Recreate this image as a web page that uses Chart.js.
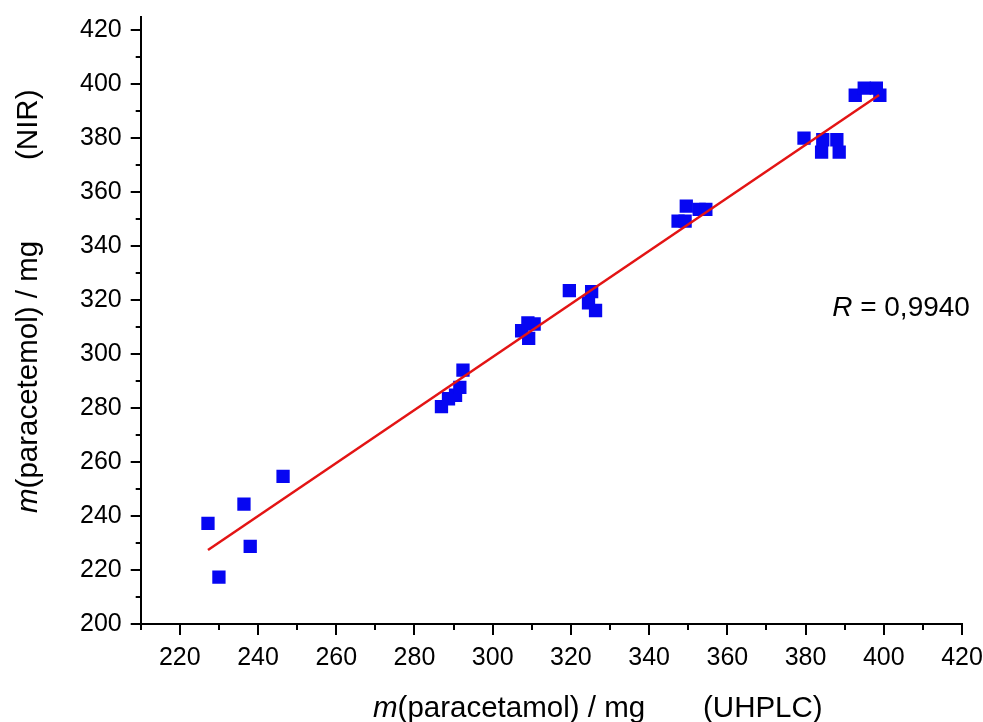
<!DOCTYPE html>
<html>
<head>
<meta charset="utf-8">
<script src="https://cdn.jsdelivr.net/npm/chart.js@4"></script>
<style>
  html, body { margin: 0; padding: 0; background: #fff; }
  #wrap { width: 983px; height: 722px; }
</style>
</head>
<body>
<div id="wrap"><canvas id="chart"></canvas></div>
<script>
// UHPLC (x) vs NIR (y), mg paracetamol
const uhplc = [
  227.2, 230.0, 236.4, 238.0, 246.4,
  286.9, 288.7, 290.5, 291.6, 292.4,
  307.4, 309.0, 310.6, 309.2,
  319.6, 325.3, 324.5, 326.3,
  347.4, 349.2, 349.5, 352.8, 354.5,
  379.6, 384.4, 388.0, 384.1, 388.6,
  392.7, 395.0, 398.1, 399.0
];
const nir = [
  237.3, 217.4, 244.4, 228.8, 254.7,
  280.6, 283.5, 284.8, 287.7, 294.1,
  308.7, 311.6, 311.2, 305.9,
  323.6, 323.2, 319.0, 316.2,
  349.3, 349.3, 354.9, 353.7, 353.7,
  380.1, 379.5, 379.5, 374.9, 374.9,
  396.0, 398.6, 398.6, 396.0
];
// linear fit, endpoints
const fitX = [227.2, 398.8];
const fitY = [227.4, 396.1];

const xTicks = [220, 240, 260, 280, 300, 320, 340, 360, 380, 400, 420];
const xMinor = [210, 230, 250, 270, 290, 310, 330, 350, 370, 390, 410];
const yTicks = [200, 220, 240, 260, 280, 300, 320, 340, 360, 380, 400, 420];
const yMinor = [210, 230, 250, 270, 290, 310, 330, 350, 370, 390, 410];

const FONT = "'Liberation Sans', Arial, sans-serif";

const tickMarks = {
  id: "tickMarks",
  afterDraw(chart) {
    const ctx = chart.ctx;
    const a = chart.chartArea;
    const xs = chart.scales.x, ys = chart.scales.y;
    ctx.save();
    ctx.strokeStyle = "#000";
    ctx.lineWidth = 2;
    ctx.beginPath();
    xTicks.concat(xMinor).forEach((v) => {
      const px = Math.round(xs.getPixelForValue(v));
      const len = xTicks.includes(v) ? 11 : 6;
      ctx.moveTo(px, a.bottom);
      ctx.lineTo(px, a.bottom + len);
    });
    yTicks.concat(yMinor).forEach((v) => {
      const py = Math.round(ys.getPixelForValue(v));
      const len = yTicks.includes(v) ? 10 : 5;
      ctx.moveTo(a.left, py);
      ctx.lineTo(a.left - len, py);
    });
    ctx.stroke();
    ctx.restore();
  },
};

// axis titles and R label, with italic symbols
function mixed(ctx, parts, x, y, size) {
  let cx = x;
  parts.forEach(([txt, style]) => {
    ctx.font = style + " " + size + "px " + FONT;
    ctx.fillText(txt, cx, y);
    cx += ctx.measureText(txt).width;
  });
}

const labels = {
  id: "labels",
  afterDraw(chart) {
    const ctx = chart.ctx;
    const xs = chart.scales.x, ys = chart.scales.y;
    ctx.save();
    ctx.fillStyle = "#000";
    ctx.textAlign = "left";
    ctx.textBaseline = "alphabetic";

    mixed(ctx, [["m", "italic"], ["(paracetamol) / mg", "normal"]], 373, 717, 29.5);
    mixed(ctx, [["(UHPLC)", "normal"]], 703, 717, 29.5);

    ctx.save();
    ctx.translate(37, 513);
    ctx.rotate(-Math.PI / 2);
    mixed(ctx, [["m", "italic"], ["(paracetemol) / mg", "normal"]], 0, 0, 29.5);
    mixed(ctx, [["(NIR)", "normal"]], 353, 0, 29.5);
    ctx.restore();

    mixed(ctx, [["R", "italic"], [" = 0,9940", "normal"]],
      xs.getPixelForValue(386.8), ys.getPixelForValue(314.2), 28);
    ctx.restore();
  },
};

new Chart(document.getElementById("chart"), {
  type: "scatter",
  data: {
    datasets: [
      {
        type: "line",
        data: fitX.map((x, i) => ({ x: x, y: fitY[i] })),
        borderColor: "#e31414",
        borderWidth: 2.5,
        pointRadius: 0,
        fill: false,
        order: 0,
      },
      {
        data: uhplc.map((x, i) => ({ x: x, y: nir[i] })),
        pointStyle: "rect",
        pointRadius: 9.4,
        pointHoverRadius: 9.4,
        backgroundColor: "#0606f2",
        borderColor: "#0606f2",
        borderWidth: 0,
        order: 1,
      },
    ],
  },
  options: {
    responsive: true,
    maintainAspectRatio: false,
    animation: false,
    layout: { padding: { left: 69, right: 21, top: 17, bottom: 38 } },
    plugins: {
      legend: { display: false },
      tooltip: { enabled: false },
    },
    scales: {
      x: {
        type: "linear",
        min: 210,
        max: 420,
        afterBuildTicks: (s) => { s.ticks = xTicks.map((v) => ({ value: v })); },
        afterFit: (s) => { s.paddingLeft = 0; s.paddingRight = 0; },
        grid: { display: false },
        border: { display: true, color: "#000", width: 2 },
        ticks: {
          color: "#000",
          padding: 11,
          maxRotation: 0,
          font: { family: FONT, size: 25 },
        },
      },
      y: {
        type: "linear",
        min: 200,
        max: 425,
        afterBuildTicks: (s) => { s.ticks = yTicks.map((v) => ({ value: v })); },
        afterFit: (s) => { s.paddingTop = 0; s.paddingBottom = 0; },
        grid: { display: false },
        border: { display: true, color: "#000", width: 2 },
        ticks: {
          color: "#000",
          padding: 11,
          font: { family: FONT, size: 25 },
        },
      },
    },
  },
  plugins: [tickMarks, labels],
});
</script>
</body>
</html>
